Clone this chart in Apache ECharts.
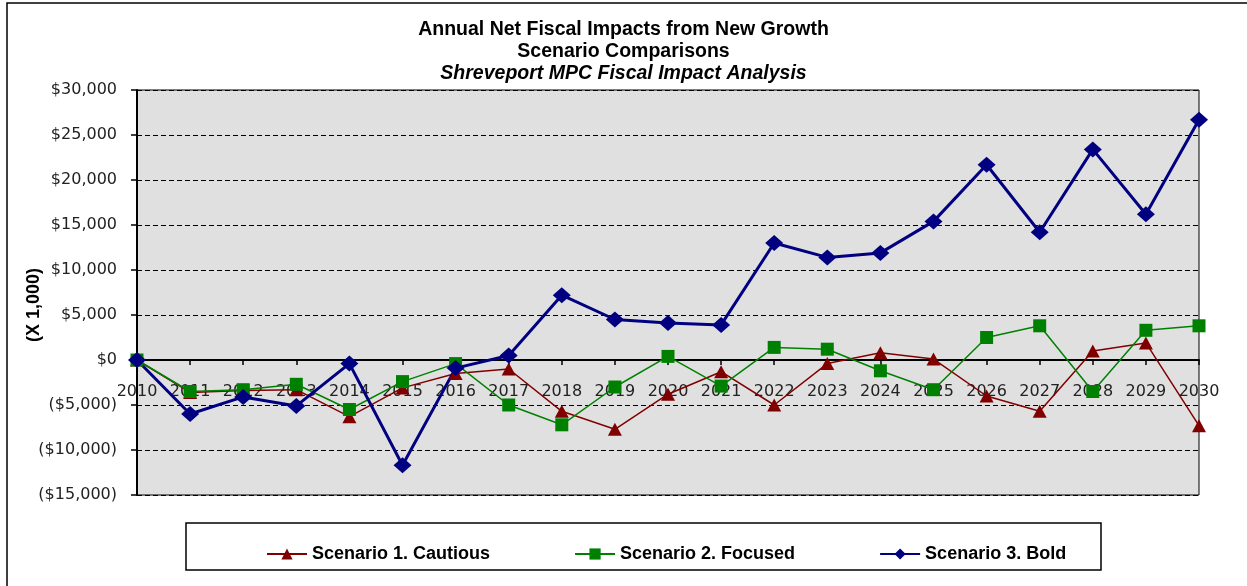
<!DOCTYPE html>
<html>
<head>
<meta charset="utf-8">
<script src="https://cdn.jsdelivr.net/npm/echarts@6/dist/echarts.min.js"></script>
<style>
  html, body { margin: 0; padding: 0; background: #fff; }
  #chart { width: 1247px; height: 586px; }
</style>
</head>
<body>
<div id="chart"></div>
<script>
// Years on the category axis
const years = ['2010','2011','2012','2013','2014','2015','2016','2017','2018','2019','2020',
               '2021','2022','2023','2024','2025','2026','2027','2028','2029','2030'];

// Annual net fiscal impact, thousands of dollars
const cautious = [0, -3600, -3400, -3300, -6300, -3100, -1500, -1000, -5700, -7700, -3800,
                  -1300, -5000, -400, 800, 100, -4000, -5700, 1000, 1900, -7300];
const focused  = [0, -3500, -3300, -2700, -5500, -2400, -400, -5000, -7200, -3000, 400,
                  -2900, 1400, 1200, -1200, -3300, 2500, 3800, -3500, 3300, 3800];
const bold     = [0, -6000, -4100, -5100, -400, -11700, -900, 500, 7200, 4500, 4100,
                  3900, 13000, 11400, 11900, 15400, 21700, 14200, 23400, 16200, 26700];

const seriesNames = ['Scenario 1. Cautious', 'Scenario 2. Focused', 'Scenario 3. Bold'];

function money(v) {
  const s = Math.abs(v).toLocaleString('en-US');
  return v < 0 ? '($' + s + ')' : '$' + s;
}

const titleFont = { fontFamily: 'Liberation Sans', fontWeight: 'bold', fontSize: 19.5, color: '#000' };

const chart = echarts.init(document.getElementById('chart'), null, { renderer: 'canvas' });

chart.setOption({
  animation: false,
  backgroundColor: '#ffffff',
  title: [
    { text: 'Annual Net Fiscal Impacts from New Growth', left: 'center', top: 15, textStyle: titleFont },
    { text: 'Scenario Comparisons', left: 'center', top: 37, textStyle: titleFont },
    { text: 'Shreveport MPC Fiscal Impact Analysis', left: 'center', top: 59,
      textStyle: Object.assign({}, titleFont, { fontStyle: 'italic' }) }
  ],
  graphic: [
    { type: 'rect', shape: { x: 7, y: 3, width: 1260, height: 600 }, z: -10,
      style: { fill: '#fff', stroke: '#000', lineWidth: 1.5 } },
    { type: 'rect', shape: { x: 186, y: 523, width: 915, height: 47 }, z: -5,
      style: { fill: '#fff', stroke: '#000', lineWidth: 1.5 } },
    { type: 'text', x: 34, y: 305, rotation: Math.PI / 2,
      style: { text: '(X 1,000)', fontFamily: 'Liberation Sans', fontWeight: 'bold', fontSize: 18,
               fill: '#000', textAlign: 'center', textVerticalAlign: 'middle' } }
  ],
  legend: {
    data: seriesNames,
    left: 261, top: 540,
    itemWidth: 40, itemHeight: 14, itemGap: 84,
    textStyle: { fontFamily: 'Liberation Sans', fontWeight: 'bold', fontSize: 18, color: '#000' }
  },
  grid: {
    left: 137, right: 48, top: 90, bottom: 91,
    show: true, backgroundColor: '#e0e0e0', borderColor: '#000', borderWidth: 1
  },
  xAxis: {
    type: 'category',
    data: years,
    boundaryGap: false,
    axisLine: { onZero: true, lineStyle: { color: '#000', width: 2 } },
    axisTick: { show: true, length: 5, lineStyle: { color: '#000', width: 1.5 } },
    // labels sit just under the zero line
    axisLabel: { margin: -111, fontFamily: 'DejaVu Sans', fontSize: 16, color: '#222', interval: 0 },
    splitLine: { show: false }
  },
  yAxis: {
    type: 'value',
    min: -15000, max: 30000, interval: 5000,
    axisLine: { show: true, lineStyle: { color: '#000', width: 2 } },
    axisTick: { show: true, length: 6, lineStyle: { color: '#000', width: 1.5 } },
    axisLabel: { margin: 20, fontFamily: 'DejaVu Sans', fontSize: 16, color: '#222', formatter: money },
    splitLine: { show: true, lineStyle: { color: '#000', type: [5, 3], width: 1 } }
  },
  series: [
    { name: seriesNames[0], type: 'line', data: cautious,
      symbol: 'triangle', symbolSize: [14, 13], showAllSymbol: true,
      itemStyle: { color: '#800000' }, lineStyle: { color: '#800000', width: 1.5 } },
    { name: seriesNames[1], type: 'line', data: focused,
      symbol: 'rect', symbolSize: 13, showAllSymbol: true,
      itemStyle: { color: '#008000' }, lineStyle: { color: '#008000', width: 1.5 } },
    { name: seriesNames[2], type: 'line', data: bold,
      symbol: 'diamond', symbolSize: [18, 16], showAllSymbol: true,
      itemStyle: { color: '#000080' }, lineStyle: { color: '#000080', width: 3 } }
  ]
});
</script>
</body>
</html>
